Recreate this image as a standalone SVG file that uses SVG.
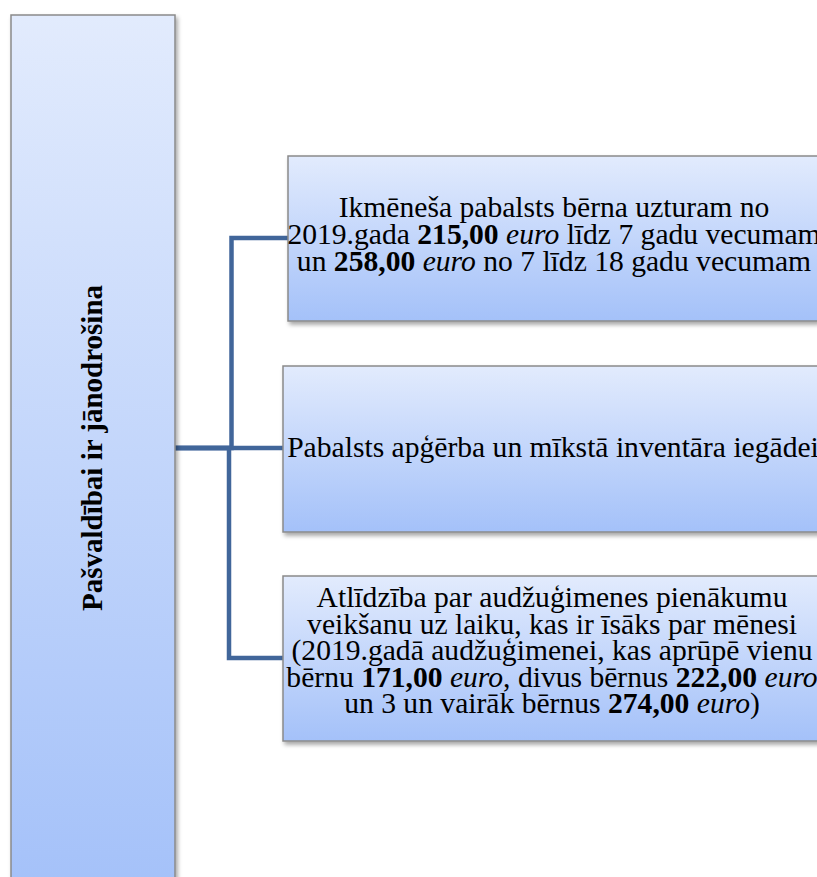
<svg xmlns="http://www.w3.org/2000/svg" width="817" height="877" viewBox="0 0 817 877">
<defs>
<linearGradient id="g" x1="0" y1="0" x2="0" y2="1">
<stop offset="0" stop-color="#e2ebfd"/>
<stop offset="1" stop-color="#a4c1f9"/>
</linearGradient>
<filter id="sh" x="-5%" y="-5%" width="115%" height="115%">
<feDropShadow dx="2" dy="3" stdDeviation="2" flood-color="#000" flood-opacity="0.35"/>
</filter>
<style>
.box{fill:url(#g);stroke:#8a8a8a;stroke-width:1.5;filter:url(#sh)}
.t{font-family:"Liberation Serif","Times New Roman",serif;font-size:29.6px;fill:#000;text-anchor:middle}
.r{font-size:29px}
.b{font-weight:bold}
.i{font-style:italic}
.c{fill:none;stroke:#41669a;stroke-width:4.5;stroke-linejoin:miter;stroke-linecap:butt}
</style>
</defs>
<rect width="817" height="877" fill="#fff"/>
<g id="connectors">
<path class="c" d="M175,448 H231.5 V238 H288"/>
<path class="c" d="M175,448 H283"/>
<path class="c" d="M175,448 H229 V658 H283"/>
</g>
<g id="root">
<rect class="box" x="11" y="15" width="164" height="880"/>
<text class="t r b" transform="translate(101.5,448) rotate(-90)">Pašvaldībai ir jānodrošina</text>
</g>
<g id="n1">
<rect class="box" x="288" y="156" width="530" height="165"/>
<text class="t" x="554" y="217">Ikmēneša pabalsts bērna uzturam no</text>
<text class="t" x="554" y="244">2019.gada <tspan class="b">215,00</tspan> <tspan class="i">euro</tspan> līdz 7 gadu vecumam</text>
<text class="t" x="554" y="271">un <tspan class="b">258,00</tspan> <tspan class="i">euro</tspan> no 7 līdz 18 gadu vecumam</text>
</g>
<g id="n2">
<rect class="box" x="283" y="366" width="538" height="166"/>
<text class="t" x="553" y="457">Pabalsts apģērba un mīkstā inventāra iegādei</text>
</g>
<g id="n3">
<rect class="box" x="283" y="576" width="538" height="165"/>
<text class="t" x="552" y="607">Atlīdzība par audžuģimenes pienākumu</text>
<text class="t" x="552" y="633.5">veikšanu uz laiku, kas ir īsāks par mēnesi</text>
<text class="t" x="552" y="660">(2019.gadā audžuģimenei, kas aprūpē vienu</text>
<text class="t" x="552" y="686.5">bērnu <tspan class="b">171,00</tspan> <tspan class="i">euro</tspan>, divus bērnus <tspan class="b">222,00</tspan> <tspan class="i">euro</tspan></text>
<text class="t" x="552" y="713">un 3 un vairāk bērnus <tspan class="b">274,00</tspan> <tspan class="i">euro</tspan>)</text>
</g>
</svg>
